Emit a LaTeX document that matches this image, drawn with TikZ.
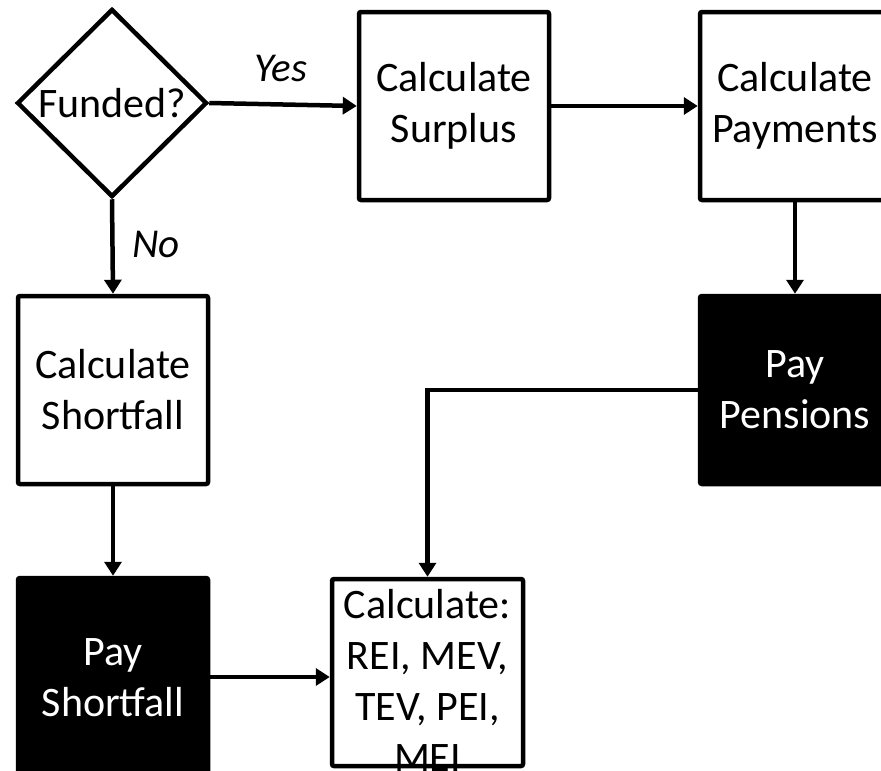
\documentclass[tikz,border=0pt]{standalone}
\usepackage{fontspec}
\setmainfont{Carlito}
\usetikzlibrary{shapes.geometric,arrows.meta}
\tikzset{
  box/.style={draw=black, line width=4.5pt, fill=white, rounded corners=2pt, inner sep=0pt,
    minimum width=190pt, minimum height=188pt, align=center,
    font=\fontsize{42}{51}\selectfont},
  blackbox/.style={box, fill=black, text=white},
  txt/.style={align=center, inner sep=0pt, font=\fontsize{42}{51}\selectfont},
  lbl/.style={inner sep=0pt, font=\fontsize{41}{48}\selectfont\itshape},
  conn/.style={line width=4.5pt, -{Triangle[length=14pt,width=17pt]}},
}
\begin{document}
\begin{tikzpicture}[x=1pt,y=-1pt]
\useasboundingbox (0,0) rectangle (881,771);
\clip (0,0) rectangle (881,771);
% nodes
\node[diamond, draw=black, line width=4.5pt, inner sep=0pt, minimum width=190pt, minimum height=188pt] (fund) at (112,103) {};
\node[txt] at (fund.center) {Funded?};
\node[box] (surp) at (454,106) {Calculate\\Surplus};
\node[box] (paym) at (795,106) {Calculate\\Payments};
\node[blackbox] (pens) at (795,390) {Pay\\Pensions};
\node[box] (short) at (113,390) {Calculate\\Shortfall};
\node[blackbox, minimum height=200pt] (pshort) at (113,678) {Pay\\Shortfall};
\node[box, minimum width=191pt, minimum height=187pt] (calc) at (427.5,672.5) {};
\node[txt] (calctxt) at (427.5,680) {Calculate:\\REI, MEV,\\TEV, PEI,\\MEI};
% labels
\node[lbl] (yes) at (281,68) {Yes};
\node[lbl] (no) at (156,244) {No};
% connectors
\draw[conn] (fund.east) -- (surp.west);
\draw[conn] (surp.east) -- (paym.west);
\draw[conn] (paym.south) -- (pens.north);
\draw[conn] (pens.west) -| (calc.north);
\draw[conn] (fund.south) -- (short.north);
\draw[conn] (short.south) -- (pshort.north);
\draw[conn] (pshort.east |- 0,677) -- (calc.west |- 0,677);
\end{tikzpicture}
\end{document}
